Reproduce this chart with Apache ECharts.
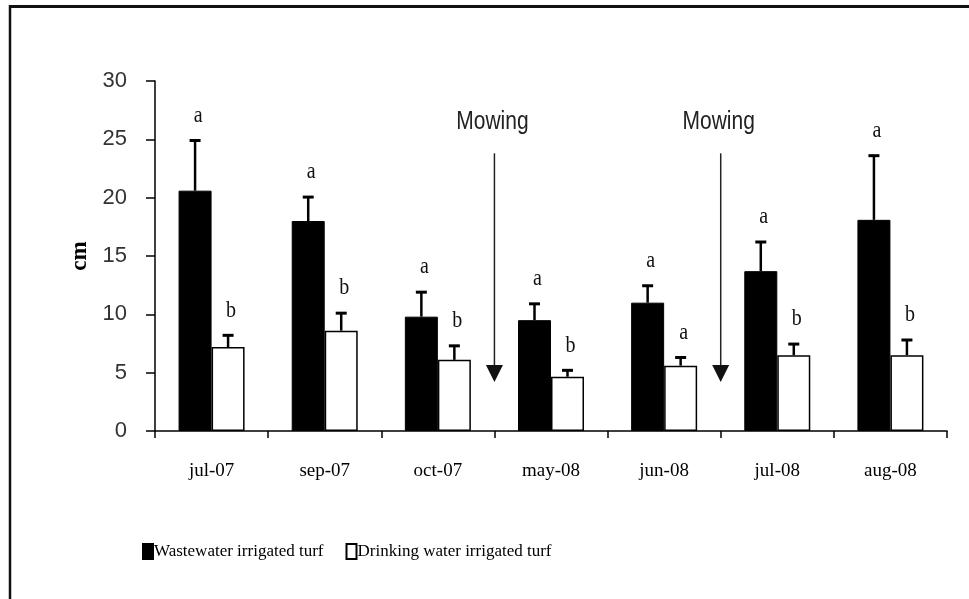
<!DOCTYPE html>
<html><head><meta charset="utf-8">
<script src="https://cdn.jsdelivr.net/npm/echarts@6/dist/echarts.min.js"></script>
<style>html,body{margin:0;padding:0;background:#fff}#c{width:969px;height:599px}</style>
</head><body><div id="c"></div>
<script>
const categories = ['jul-07','sep-07','oct-07','may-08','jun-08','jul-08','aug-08'];
const wastewater = [20.6, 18.0, 9.8, 9.5, 11.0, 13.7, 18.1];
const wastewaterErr = [4.3, 2.05, 2.1, 1.4, 1.45, 2.5, 5.5];
const drinking = [7.2, 8.6, 6.1, 4.65, 5.6, 6.5, 6.5];
const drinkingErr = [1.0, 1.5, 1.2, 0.55, 0.7, 0.95, 1.3];
const wastewaterLetters = ['a','a','a','a','a','a','a'];
const drinkingLetters = ['b','b','b','b','a','b','b'];
const mowingAfter = [2, 4];
const mowingArrowTop = 23.8;
const mowingArrowTip = 4.2;
const mowingTextAt = 26.5;
const mowingLabel = 'Mowing';
const yMin = 0, yMax = 30, yStep = 5;
const seriesNames = ['Wastewater irrigated turf', 'Drinking water irrigated turf'];

const BAR_W = 33;
const chart = echarts.init(document.getElementById('c'), null, {renderer: 'canvas'});

function errRender(sign, letters) {
  return function (params, api) {
    const i = api.value(0), v = api.value(1), e = api.value(2);
    const base = api.coord([i, v]);
    const top = api.coord([i, v + e]);
    const x = base[0] + sign * BAR_W / 2;
    return {
      type: 'group',
      children: [
        {type: 'line', shape: {x1: x, y1: base[1], x2: x, y2: top[1]}, style: {stroke: '#000', lineWidth: 2.5}},
        {type: 'line', shape: {x1: x - 5.5, y1: top[1], x2: x + 5.5, y2: top[1]}, style: {stroke: '#000', lineWidth: 3}},
        {type: 'text', x: x + 3, y: top[1] - 25, scaleY: 1.2, style: {text: letters[params.dataIndex], fill: '#111', font: '20px "Liberation Serif"', align: 'center', verticalAlign: 'middle'}}
      ]
    };
  };
}

function mowingRender(params, api) {
  const i = api.value(0);
  const band = api.size([1, 0])[0];
  const c = api.coord([i, 0]);
  const x = c[0] + band / 2;
  const yTop = api.coord([i, mowingArrowTop])[1];
  const yTip = api.coord([i, mowingArrowTip])[1];
  const yText = api.coord([i, mowingTextAt])[1];
  return {
    type: 'group',
    children: [
      {type: 'line', shape: {x1: x, y1: yTop, x2: x, y2: yTip - 14}, style: {stroke: '#222', lineWidth: 1.5}},
      {type: 'polygon', shape: {points: [[x - 8.5, yTip - 17], [x + 8.5, yTip - 17], [x, yTip]]}, style: {fill: '#111'}},
      {type: 'text', x: x - 2, y: yText, scaleY: 1.2, style: {text: mowingLabel, fill: '#222', font: '21px "Liberation Sans"', align: 'center', verticalAlign: 'middle'}}
    ]
  };
}

const option = {
  animation: false,
  backgroundColor: '#fff',
  graphic: [
    {type: 'line', shape: {x1: 10, y1: 5, x2: 10, y2: 599}, style: {stroke: '#111', lineWidth: 2.5}},
    {type: 'line', shape: {x1: 9, y1: 6.5, x2: 969, y2: 6.5}, style: {stroke: '#111', lineWidth: 3}}
  ],
  grid: {left: 155, top: 81, width: 792, height: 350},
  legend: {
    left: 137, top: 538,
    itemWidth: 10, itemHeight: 15, itemGap: 22,
    icon: 'rect',
    textStyle: {fontFamily: 'Liberation Serif', fontSize: 17, color: '#000', padding: [0, 0, 0, -4]},
    data: seriesNames
  },
  xAxis: {
    type: 'category',
    data: categories,
    axisLine: {lineStyle: {color: '#000', width: 1.5}},
    axisTick: {show: true, length: 7, lineStyle: {color: '#000', width: 1.5}},
    axisLabel: {margin: 31, color: '#000', fontFamily: 'Liberation Serif', fontSize: 19},
    splitLine: {show: false}
  },
  yAxis: {
    type: 'value',
    min: yMin, max: yMax, interval: yStep,
    name: 'cm', nameLocation: 'middle', nameGap: 62, nameRotate: 90,
    nameTextStyle: {fontFamily: 'Liberation Serif', fontWeight: 'bold', fontSize: 23, color: '#000'},
    axisLine: {show: true, lineStyle: {color: '#000', width: 1.5}},
    axisTick: {show: true, length: 9, lineStyle: {color: '#000', width: 1.5}},
    axisLabel: {margin: 28, color: '#333', fontFamily: 'Liberation Sans', fontSize: 22},
    splitLine: {show: false}
  },
  series: [
    {name: seriesNames[0], type: 'bar', data: wastewater, barWidth: BAR_W, barGap: '0%',
     itemStyle: {color: '#000', borderColor: '#000', borderWidth: 1}},
    {name: seriesNames[1], type: 'bar', data: drinking, barWidth: BAR_W, barGap: '0%',
     itemStyle: {color: '#fff', borderColor: '#000', borderWidth: 1.5}},
    {type: 'custom', renderItem: errRender(-1, wastewaterLetters), z: 5,
     data: wastewater.map((v, i) => [i, v, wastewaterErr[i]])},
    {type: 'custom', renderItem: errRender(1, drinkingLetters), z: 5,
     data: drinking.map((v, i) => [i, v, drinkingErr[i]])},
    {type: 'custom', renderItem: mowingRender, z: 5,
     data: mowingAfter.map(i => [i])}
  ]
};
chart.setOption(option);
</script>
</body></html>
